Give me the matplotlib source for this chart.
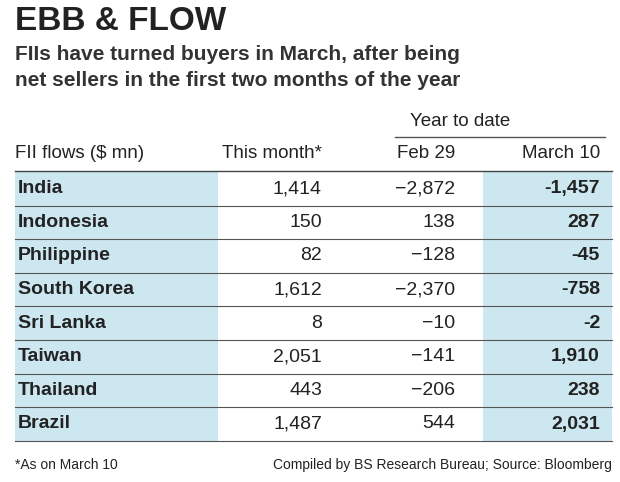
import matplotlib
matplotlib.use("Agg")
import matplotlib.pyplot as plt
from matplotlib.patches import Rectangle

countries = ["India", "Indonesia", "Philippine", "South Korea", "Sri Lanka", "Taiwan", "Thailand", "Brazil"]
this_month = ["1,414", "150", "82", "1,612", "8", "2,051", "443", "1,487"]
feb29 = ["\u22122,872", "138", "\u2212128", "\u22122,370", "\u221210", "\u2212141", "\u2212206", "544"]
mar10 = ["-1,457", "287", "-45", "-758", "-2", "1,910", "238", "2,031"]
headers = ["FII flows ($ mn)", "This month*", "Feb 29", "March 10"]

FONT = "Liberation Sans"
fig = plt.figure(figsize=(6.2, 4.82), dpi=100)
ax = fig.add_axes([0, 0, 1, 1])
ax.set_xlim(0, 620); ax.set_ylim(482, 0); ax.axis("off")

ax.text(15, 22, "EBB & FLOW", fontsize=24, fontweight="bold", family=FONT, va="center", color="#222")
ax.text(15, 55, "FIIs have turned buyers in March, after being", fontsize=15, fontweight="bold", family=FONT, va="center", color="#333")
ax.text(15, 81, "net sellers in the first two months of the year", fontsize=15, fontweight="bold", family=FONT, va="center", color="#333")

ax.text(460, 122, "Year to date", fontsize=13.5, family=FONT, va="center", ha="center", color="#222")
ax.plot([395, 605], [137, 137], color="#555", lw=1)
hx = [15, 322, 455, 600]
for i, h in enumerate(headers):
    ax.text(hx[i], 154, h, fontsize=13.5, family=FONT, va="center", ha="left" if i == 0 else "right", color="#222")
ax.plot([15, 612], [171, 171], color="#444", lw=1)

blue = "#cce7f0"
top, rh = 172, 33.6
n = len(countries)
ax.add_patch(Rectangle((15, top), 203, rh * n, color=blue, lw=0))
ax.add_patch(Rectangle((483, top), 129, rh * n, color=blue, lw=0))
for i in range(n):
    y = top + rh * (i + 0.5)
    ax.text(18, y, countries[i], fontsize=14, fontweight="bold", family=FONT, va="center", color="#222")
    ax.text(322, y, this_month[i], fontsize=14, family=FONT, va="center", ha="right", color="#222")
    ax.text(455, y, feb29[i], fontsize=14, family=FONT, va="center", ha="right", color="#222")
    ax.text(600, y, mar10[i], fontsize=14, fontweight="bold", family=FONT, va="center", ha="right", color="#222")
    ax.plot([15, 612], [top + rh * (i + 1)] * 2, color="#555", lw=0.8)

ax.text(15, 465, "*As on March 10", fontsize=10, family=FONT, va="center", color="#222")
ax.text(612, 465, "Compiled by BS Research Bureau; Source: Bloomberg", fontsize=10, family=FONT, va="center", ha="right", color="#222")
fig.savefig("out.png", dpi=100)
